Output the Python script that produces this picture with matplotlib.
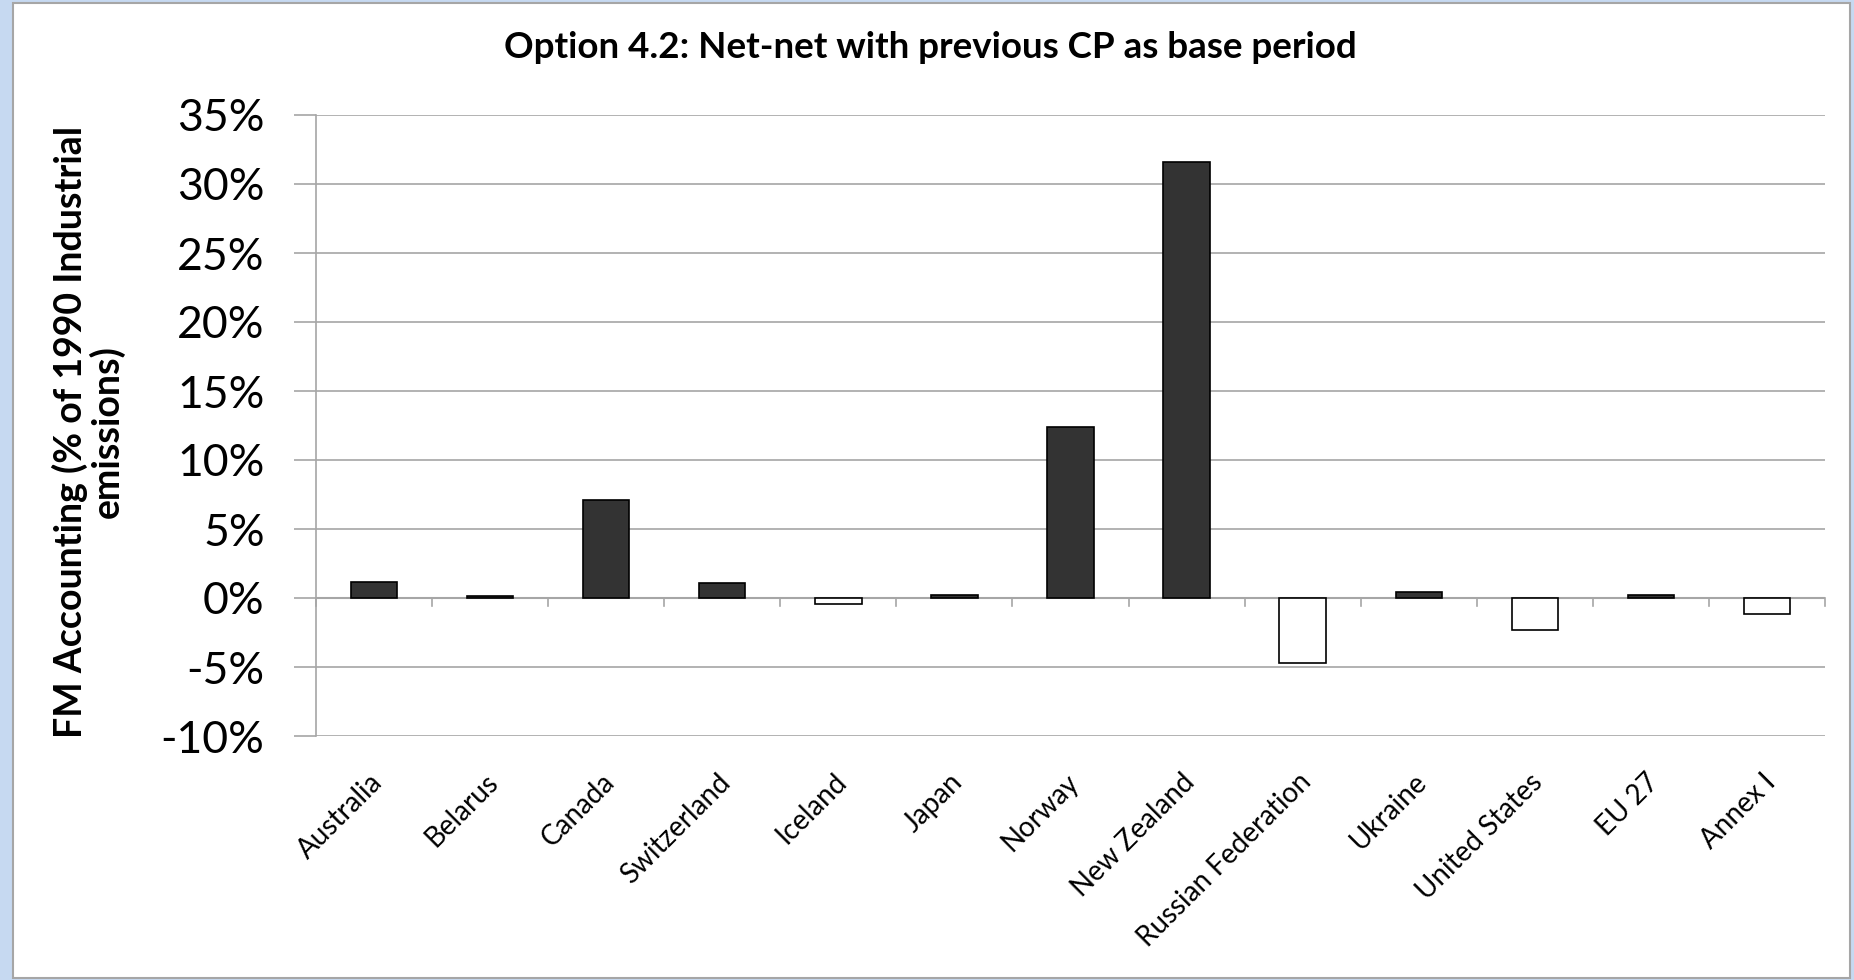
import matplotlib
matplotlib.use("Agg")
from matplotlib import pyplot as plt
from matplotlib.patches import Rectangle

plt.rcParams['font.family'] = ['Lato', 'DejaVu Sans']

countries = ['Australia', 'Belarus', 'Canada', 'Switzerland', 'Iceland', 'Japan',
             'Norway', 'New Zealand', 'Russian Federation', 'Ukraine',
             'United States', 'EU 27', 'Annex I']
# FM accounting, percent of 1990 industrial emissions
fm_accounting = [1.16, 0.14, 7.1, 1.07, -0.41, 0.22, 12.4, 31.6, -4.68, 0.43,
                 -2.29, 0.22, -1.13]
y_ticks = [-10, -5, 0, 5, 10, 15, 20, 25, 30, 35]

W, H = 1854, 980
fig = plt.figure(figsize=(W / 100, H / 100), dpi=100)
fig.patch.set_facecolor('#c6d9f1')

# white chart area with thin grey frame
fig.patches.append(Rectangle((13 / W, 2 / H), (1850 - 13) / W, (977 - 2) / H,
                             transform=fig.transFigure, facecolor='white',
                             edgecolor='#a6a6a6', linewidth=1.5, zorder=-1))

ax = fig.add_axes([316 / W, 1 - 736 / H, (1825 - 316) / W, (736 - 115) / H])
ax.set_facecolor('white')
ax.set_zorder(1)

x = list(range(len(countries)))
fills = ['#333333' if v >= 0 else 'white' for v in fm_accounting]
ax.bar(x, fm_accounting, width=0.4, color=fills, edgecolor='black',
       linewidth=1.2, zorder=3)

ax.set_xlim(-0.5, len(countries) - 0.5)
ax.set_ylim(-10, 35)
ax.set_yticks(y_ticks)
ax.set_yticklabels([f'{t}%' for t in y_ticks], fontsize=32)
ax.yaxis.grid(True, color='#a6a6a6', linewidth=1.2, zorder=0)
ax.tick_params(axis='y', length=16, width=1.2, color='#a6a6a6', pad=21)

for side in ['top', 'right', 'bottom']:
    ax.spines[side].set_visible(False)
ax.spines['left'].set_color('#a6a6a6')
ax.spines['left'].set_linewidth(1.2)

# category axis sits on the zero line, ticks between categories
ax.axhline(0, color='#a6a6a6', linewidth=1.5, zorder=2)
ax.set_xticks([])
for b in range(len(countries) + 1):
    ax.plot([b - 0.5, b - 0.5], [0, -0.55], color='#a6a6a6', linewidth=1.2,
            zorder=2, clip_on=False)

for i, name in enumerate(countries):
    ax.annotate(name, xy=(i, -10), xytext=(4, -42), textcoords='offset pixels',
                rotation=45, ha='right', va='center', rotation_mode='anchor',
                fontsize=20)

fig.text(0.502, 1 - 47 / H, 'Option 4.2: Net-net with previous CP as base period',
         fontsize=26.5, fontweight='bold', ha='center', va='center')
ax.set_ylabel('FM Accounting (% of 1990 Industrial\nemissions)', fontsize=27,
              fontweight='bold', linespacing=1.0)
ax.yaxis.set_label_coords(-0.127, 0.49)

fig.savefig('out.png', dpi=100, facecolor=fig.get_facecolor())
